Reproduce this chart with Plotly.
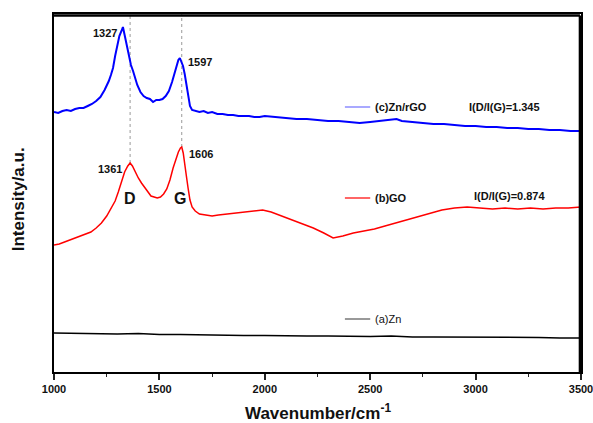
import plotly.graph_objects as go

# ---------------- data ----------------
wn_c = [1000, 1020, 1040, 1060, 1080, 1100, 1120, 1140, 1160, 1180, 1200, 1220, 1240, 1250,
        1260, 1270, 1280, 1290, 1300, 1310, 1320, 1327, 1335, 1345, 1355, 1365, 1375, 1385,
        1395, 1410, 1425, 1440, 1455, 1470, 1485, 1500, 1515, 1530, 1545, 1560, 1570, 1580,
        1590, 1597, 1605, 1612, 1620, 1628, 1636, 1645, 1655, 1670, 1690, 1710, 1730, 1750,
        1775, 1800, 1825, 1850, 1875, 1900, 1925, 1950, 1975, 2000, 2050, 2100, 2150, 2200,
        2250, 2300, 2350, 2400, 2450, 2500, 2550, 2600, 2625, 2650, 2700, 2750, 2800, 2850,
        2900, 2950, 3000, 3050, 3100, 3150, 3200, 3250, 3300, 3350, 3400, 3450, 3500]
int_c = [260, 259, 261, 262, 261, 263, 264, 264, 266, 268, 271, 275, 282, 286,
         291, 297, 304, 316, 328, 336, 341, 345, 337, 326, 315, 307, 301, 293,
         287, 280, 276, 274, 273, 270, 272, 272, 273, 276, 281, 290, 298, 306,
         312, 314, 310, 306, 298, 288, 276, 266, 262, 261, 260, 261, 259, 260,
         258, 258, 257, 257, 256, 256, 256, 255, 255, 256, 255, 254, 253, 253,
         252, 251, 251, 250, 249, 250, 251, 252, 253, 251, 250, 249, 248, 248,
         247, 246, 246, 245, 245, 244, 244, 243, 243, 242, 242, 241, 241]

wn_b = [1000, 1025, 1050, 1075, 1100, 1125, 1150, 1175, 1200, 1225, 1250, 1270, 1290, 1305,
        1320, 1335, 1350, 1361, 1372, 1385, 1400, 1415, 1430, 1445, 1460, 1475, 1490, 1505,
        1520, 1535, 1550, 1565, 1580, 1590, 1600, 1606, 1613, 1620, 1628, 1636, 1645, 1655,
        1670, 1690, 1720, 1750, 1780, 1820, 1860, 1900, 1950, 1990, 2030, 2080, 2130, 2180,
        2230, 2280, 2324, 2370, 2420, 2470, 2520, 2570, 2620, 2670, 2720, 2780, 2840, 2900,
        2960, 3020, 3080, 3140, 3200, 3260, 3320, 3380, 3440, 3500]
int_b = [127, 128, 130, 132, 134, 136, 138, 140, 144, 149, 156, 163, 171, 180,
         191, 200, 206, 209, 206, 200, 194, 189, 185, 180, 176, 175, 174, 175,
         178, 183, 192, 204, 215, 220, 224, 225, 219, 210, 196, 184, 172, 165,
         161, 158, 157, 156, 157, 158, 159, 160, 161, 162, 160, 156, 152, 148,
         144, 139, 134, 136, 139, 141, 143, 146, 149, 152, 155, 159, 162, 164,
         165, 164, 163, 164, 163, 164, 163, 164, 164, 165]

wn_a = [1000, 1100, 1200, 1300, 1400, 1500, 1600, 1700, 1800, 1900, 2000, 2100, 2200, 2300,
        2400, 2500, 2600, 2700, 2800, 2900, 3000, 3100, 3200, 3300, 3400, 3500]
int_a = [39, 38.5, 38.5, 38, 38.5, 37.5, 37.5, 37, 37, 36.5, 36.5, 36, 36, 36,
         35.5, 35.5, 36, 35, 35, 35, 35, 34.5, 34.5, 34.5, 34, 34]

peak_labels_c = ["1327", "1597"]
peak_labels_b = ["1361", "1606"]
band_labels = ["D", "G"]
dotted_positions = [1361, 1606]
series_names = ["(a)Zn", "(b)GO", "(c)Zn/rGO"]
ratio_labels = ["I(D/I(G)=0.874", "I(D/I(G)=1.345"]
x_ticks = [1000, 1500, 2000, 2500, 3000, 3500]

FONT = "Arial, Liberation Sans, sans-serif"
Y_TOP = 358

fig = go.Figure()
fig.add_trace(go.Scatter(x=wn_a, y=int_a, mode="lines", name=series_names[0],
                         line=dict(color="#000000", width=1.5), showlegend=False))
fig.add_trace(go.Scatter(x=wn_b, y=int_b, mode="lines", name=series_names[1],
                         line=dict(color="#ff0000", width=1.5), showlegend=False))
fig.add_trace(go.Scatter(x=wn_c, y=int_c, mode="lines", name=series_names[2],
                         line=dict(color="#0000ff", width=2), showlegend=False))

# dotted guide lines from the GO peaks to the top of the frame
for xv in dotted_positions:
    yv = int_b[wn_b.index(xv)]
    fig.add_shape(type="line", xref="x", yref="y", x0=xv, x1=xv, y0=yv, y1=Y_TOP,
                  line=dict(color="#999999", width=1, dash="dot"), layer="below")

# frame: top and right edges, slightly inside the plotting area
fig.add_shape(type="line", xref="paper", yref="paper", x0=0, x1=0.998, y0=0.996, y1=0.996,
              line=dict(color="#000000", width=2.5), layer="above")
fig.add_shape(type="line", xref="paper", yref="paper", x0=0.998, x1=0.998, y0=0, y1=0.996,
              line=dict(color="#000000", width=2.5), layer="above")

ann = []
def txt(x, y, s, size=11, bold=True, xanchor="center", xref="x", yref="y", **kw):
    ann.append(dict(x=x, y=y, xref=xref, yref=yref, text=s, showarrow=False,
                    xanchor=xanchor, yanchor="middle",
                    font=dict(family=FONT, size=size, color="#111111",
                              weight="bold" if bold else "normal"), **kw))

# peak labels
txt(1242, 339, peak_labels_c[0])
txt(1693, 310, peak_labels_c[1])
txt(1266, 203, peak_labels_b[0])
txt(1697, 218, peak_labels_b[1])
txt(1361, 174, band_labels[0], size=16)
txt(1598, 174, band_labels[1], size=16)

# legend-like entries (sample line + text)
leg = [(series_names[2], "#6f6fff", 265, True),
       (series_names[1], "#ff0000", 174, True),
       (series_names[0], "#555555", 53, False)]
for name, col, yv, b in leg:
    fig.add_shape(type="line", xref="x", yref="y", x0=2380, x1=2500, y0=yv, y1=yv,
                  line=dict(color=col, width=1.2))
    txt(2515, yv, name, xanchor="left", bold=b)

txt(3139, 265, ratio_labels[1])
txt(3159, 176, ratio_labels[0])

# axis titles
txt(0.5, -0.112, "Wavenumber/cm<sup>-1</sup>", size=17, xref="paper", yref="paper")
txt(-0.068, 0.483, "Intensity/a.u.", size=17, xref="paper", yref="paper", textangle=-90)

fig.update_layout(
    width=593, height=423,
    margin=dict(l=54, r=12, t=14, b=51, autoexpand=False),
    paper_bgcolor="white", plot_bgcolor="white",
    annotations=ann,
    showlegend=False,
    xaxis=dict(range=[1000, 3500], tickvals=x_ticks, ticktext=[str(v) for v in x_ticks],
               ticks="outside", ticklen=6, tickwidth=1.5, tickcolor="#222222",
               minor=dict(dtick=250, ticks="outside", ticklen=3, tickwidth=1.2, tickcolor="#222222"),
               showgrid=False, zeroline=False, showline=True, linecolor="#000000", linewidth=1.8,
               mirror=True, automargin=False, ticklabeloverflow="allow",
               tickfont=dict(family=FONT, size=11, color="#111111", weight="bold")),
    yaxis=dict(range=[0, Y_TOP], showticklabels=False, ticks="", showgrid=False, zeroline=False,
               showline=True, linecolor="#000000", linewidth=1.8, mirror=True, automargin=False),
)

fig.write_html("out.html", config={"displayModeBar": False},
               post_script="document.body.style.margin='0';"
                           "document.documentElement.style.overflow='hidden';"
                           "document.body.style.overflow='hidden';")
